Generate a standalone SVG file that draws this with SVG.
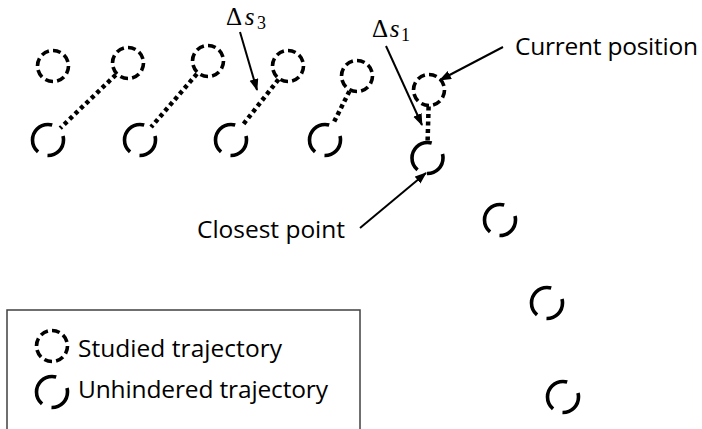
<svg xmlns="http://www.w3.org/2000/svg" width="702" height="429" viewBox="0 0 702 429">
  <style>
    .studied { fill: none; stroke: #000; stroke-width: 3.6; stroke-dasharray: 8.5 4.5; }
    .free { fill: none; stroke: #000; stroke-width: 3.6; stroke-dasharray: 107 38 156 59; stroke-dashoffset: 15; }
    .link { stroke: #000; stroke-width: 4.5; stroke-dasharray: 4 3.5; fill: none; }
    .arrow { stroke: #000; stroke-width: 2; fill: none; marker-end: url(#head); }
    .label { font-family: "Open Sans", "Liberation Sans", sans-serif; font-size: 24.5px; fill: #000; }
    .math { font-family: "Liberation Serif", "DejaVu Serif", serif; font-size: 25px; fill: #000; }
    .legend { fill: none; stroke: #404040; stroke-width: 1.5; }
  </style>
  <defs>
    <marker id="head" markerUnits="userSpaceOnUse" markerWidth="12" markerHeight="10" refX="11" refY="4.5" orient="auto">
      <path d="M0,0 L12,4.5 L0,9 Z" fill="#000"/>
    </marker>
    <circle id="dashed" r="15.5" pathLength="104" class="studied"/>
    <circle id="solid" r="15.5" pathLength="360" class="free"/>
  </defs>

  <rect width="702" height="429" fill="#fff"/>

  <!-- dotted links between studied and unhindered positions, plus label arrows -->
  <g id="connectors">
    <line class="link" x1="115.8" y1="74.8" x2="60.2" y2="128.2"/>
    <line class="link" x1="196.9" y1="73.9" x2="151.1" y2="127.1"/>
    <line class="link" x1="278.5" y1="79.4" x2="241.5" y2="126.6"/>
    <line class="link" x1="349.4" y1="91.2" x2="332.6" y2="124.8"/>
    <line class="link" x1="428.6" y1="106.5" x2="427.6" y2="141.5"/>
    <line class="arrow" x1="240" y1="32" x2="257" y2="90"/>
    <line class="arrow" x1="386" y1="46" x2="422" y2="125"/>
    <line class="arrow" x1="503" y1="47" x2="440" y2="80"/>
    <line class="arrow" x1="360" y1="228" x2="426" y2="173"/>
  </g>

  <!-- studied trajectory -->
  <g id="studied-1"><use href="#dashed" x="53" y="66"/></g>
  <g id="studied-2"><use href="#dashed" x="128" y="63"/></g>
  <g id="studied-3"><use href="#dashed" x="208" y="61"/></g>
  <g id="studied-4"><use href="#dashed" x="288" y="66"/></g>
  <g id="studied-5"><use href="#dashed" x="357" y="76"/></g>
  <g id="current-position"><use href="#dashed" x="429" y="90"/></g>

  <!-- unhindered trajectory -->
  <g id="free-1"><use href="#solid" x="48" y="140"/></g>
  <g id="free-2"><use href="#solid" x="140" y="140"/></g>
  <g id="free-3"><use href="#solid" x="231" y="140"/></g>
  <g id="free-4"><use href="#solid" x="325" y="140"/></g>
  <g id="closest-point"><use href="#solid" x="427.5" y="158"/></g>
  <g id="free-6"><use href="#solid" x="500" y="220"/></g>
  <g id="free-7"><use href="#solid" x="547" y="303"/></g>
  <g id="free-8"><use href="#solid" x="563" y="397"/></g>

  <!-- labels -->
  <g id="label-ds3">
    <text class="math" x="226" y="25" textLength="40">Δ<tspan font-style="italic">s</tspan><tspan font-size="18" dy="4">3</tspan></text>
  </g>
  <g id="label-ds1">
    <text class="math" x="372" y="37" textLength="38">Δ<tspan font-style="italic">s</tspan><tspan font-size="18" dy="4">1</tspan></text>
  </g>
  <g id="label-current">
    <text class="label" x="515" y="55" textLength="183">Current position</text>
  </g>
  <g id="label-closest">
    <text class="label" x="197" y="238" textLength="148">Closest point</text>
  </g>

  <!-- legend -->
  <g id="legend">
    <rect class="legend" x="7" y="310" width="353" height="140"/>
    <use href="#dashed" x="52" y="346"/>
    <text class="label" x="78" y="357" textLength="204">Studied trajectory</text>
    <use href="#solid" x="52" y="392"/>
    <text class="label" x="78" y="398" textLength="250">Unhindered trajectory</text>
  </g>
</svg>
